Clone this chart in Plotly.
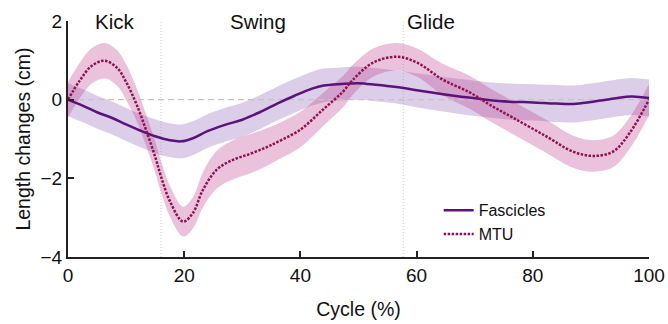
import plotly.graph_objects as go

# ---- data ----
fas_x = [0, 2.5, 5, 7.5, 10, 12.5, 15, 17.5, 19.5, 21.5, 24, 27, 30, 33, 36, 39, 42, 44, 47, 50,
         53, 56.5, 60, 64, 68, 72, 76, 80, 84, 87, 90, 94, 97, 100]
fas_y = [0, -0.15, -0.32, -0.46, -0.63, -0.79, -0.93, -1.03, -1.06, -0.98, -0.80, -0.64, -0.51,
         -0.32, -0.10, 0.10, 0.28, 0.36, 0.40, 0.42, 0.38, 0.32, 0.24, 0.15, 0.07, 0.0, -0.05,
         -0.07, -0.10, -0.11, -0.06, 0.03, 0.08, 0.04]
fas_sd = [0.42, 0.42, 0.42, 0.42, 0.42, 0.42, 0.43, 0.43, 0.43, 0.43, 0.43, 0.43, 0.43, 0.43,
          0.43, 0.43, 0.43, 0.43, 0.42, 0.42, 0.42, 0.42, 0.43, 0.44, 0.45, 0.45, 0.46, 0.46,
          0.47, 0.47, 0.47, 0.47, 0.47, 0.47]

mtu_x = [0, 2, 4, 6.3, 8.5, 10, 11.8, 13.5, 15, 16, 17.6, 19.8, 21.5, 23.2, 25.6, 28.4, 31.3,
         34, 36, 40, 43.9, 47.3, 49, 52.5, 56.6, 60.1, 64.5, 69.2, 72.6, 76.6, 82.4, 86.9,
         90.4, 93.8, 96.7, 100]
mtu_y = [0, 0.48, 0.85, 0.99, 0.80, 0.45, -0.12, -0.80, -1.45, -1.95, -2.60, -3.10, -2.88,
         -2.30, -1.78, -1.53, -1.38, -1.22, -1.08, -0.76, -0.25, 0.20, 0.50, 0.94, 1.09, 0.94,
         0.51, 0.18, -0.13, -0.46, -0.94, -1.32, -1.43, -1.32, -0.84, 0.0]
mtu_sd = [0.45, 0.45, 0.45, 0.45, 0.45, 0.45, 0.42, 0.40, 0.40, 0.40, 0.39, 0.38, 0.40, 0.45,
          0.48, 0.50, 0.50, 0.48, 0.46, 0.45, 0.42, 0.40, 0.38, 0.36, 0.35, 0.36, 0.40, 0.42,
          0.42, 0.42, 0.42, 0.41, 0.40, 0.40, 0.40, 0.40]

phase_labels = ["Kick", "Swing", "Glide"]
phase_label_x = [4.3, 27.5, 58]
phase_bounds = [16, 57.7]

x_ticks = [0, 20, 40, 60, 80, 100]
y_ticks = [-4, -2, 0, 2]

FAS_LINE = "#5b137c"
MTU_LINE = "#8e1055"
FAS_FILL = "rgba(140,90,180,0.30)"
MTU_FILL = "rgba(195,70,145,0.33)"
FONT = "Liberation Sans, Arial, sans-serif"

fig = go.Figure()


def band(x, y, sd, fill):
    up = [a + b for a, b in zip(y, sd)]
    lo = [a - b for a, b in zip(y, sd)]
    fig.add_trace(go.Scatter(x=x, y=up, mode="lines", line=dict(width=0, shape="spline"),
                             showlegend=False, hoverinfo="skip"))
    fig.add_trace(go.Scatter(x=x, y=lo, mode="lines", line=dict(width=0, shape="spline"),
                             fill="tonexty", fillcolor=fill, showlegend=False, hoverinfo="skip"))


band(fas_x, fas_y, fas_sd, FAS_FILL)
band(mtu_x, mtu_y, mtu_sd, MTU_FILL)

# zero reference line
fig.add_trace(go.Scatter(x=[0, 100], y=[0, 0], mode="lines",
                         line=dict(color="#c4c4c4", width=1.3, dash="6px,4px"),
                         showlegend=False, hoverinfo="skip"))

fig.add_trace(go.Scatter(x=fas_x, y=fas_y, mode="lines", name="Fascicles",
                         line=dict(color=FAS_LINE, width=2.5, shape="spline")))
fig.add_trace(go.Scatter(x=mtu_x, y=mtu_y, mode="lines", name="MTU",
                         line=dict(color=MTU_LINE, width=2.5, dash="2.5px,1.5px",
                                   shape="spline")))

for xb in phase_bounds:
    fig.add_shape(type="line", x0=xb, x1=xb, y0=-4, y1=2, xref="x", yref="y",
                  line=dict(color="#cfcfcf", width=1, dash="1px,2px"), layer="below")

for lab, lx in zip(phase_labels, phase_label_x):
    fig.add_annotation(x=lx, y=2, xref="x", yref="y", text=lab, showarrow=False,
                       xanchor="left", yanchor="middle",
                       font=dict(size=20.5, color="#111", family=FONT))

fig.update_layout(
    width=668, height=324,
    margin=dict(l=68, r=19, t=21, b=67),
    plot_bgcolor="white", paper_bgcolor="white",
    font=dict(family=FONT, size=19.5, color="#111"),
    showlegend=True,
    legend=dict(x=0.638, y=0.27, xanchor="left", yanchor="top", traceorder="normal",
                bgcolor="rgba(0,0,0,0)", font=dict(size=16, family=FONT),
                tracegroupgap=0, itemwidth=30),
)
fig.update_xaxes(range=[0, 100], tickvals=x_ticks, ticks="inside", ticklen=6, tickwidth=1.5,
                 tickcolor="#222", showline=True, linecolor="#222", linewidth=2,
                 showgrid=False, zeroline=False, automargin=False,
                 title=dict(text="Cycle (%)", standoff=18, font=dict(size=19.5)),
                 tickfont=dict(size=19))
fig.update_yaxes(range=[-4, 2], tickvals=y_ticks, ticks="inside", ticklen=6, tickwidth=1.5,
                 tickcolor="#222", showline=True, linecolor="#222", linewidth=2,
                 showgrid=False, zeroline=False, automargin=False,
                 title=dict(text="Length changes (cm)", standoff=5, font=dict(size=19.5)),
                 tickfont=dict(size=19))

fig.write_html("out.html", config={"displayModeBar": False},
               post_script="document.body.style.margin='0px';")
